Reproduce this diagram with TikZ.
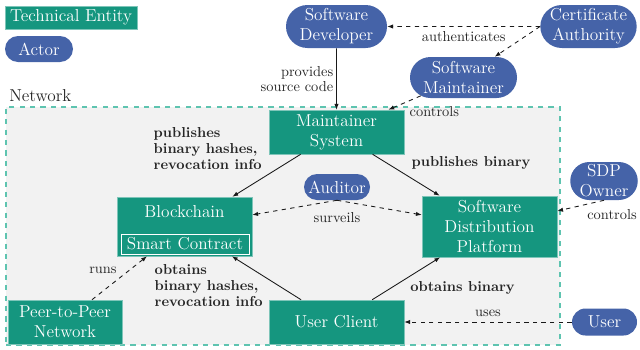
\documentclass[tikz,border=0pt]{standalone}
\usetikzlibrary{shapes.misc,arrows.meta,calc}
\definecolor{entityfill}{HTML}{15967F}
\definecolor{actorfill}{HTML}{4563A8}
\definecolor{netborder}{HTML}{5EC4B0}
\definecolor{netfill}{HTML}{F2F2F2}
\newcommand\pxlen{0.6944pt}
\tikzset{
  sz/.style 2 args={minimum width={#1*\pxlen}, minimum height={#2*\pxlen}},
  entity/.style={rectangle, fill=entityfill, draw=entityfill!55!white, line width=0.4pt,
    text=white, font=\large, align=center, inner sep=0pt},
  actor/.style={rounded rectangle, fill=actorfill, draw=none,
    text=white, font=\large, align=center, inner sep=0pt},
  lbl/.style={font=\fontsize{10}{11}\selectfont, text=black!85, inner sep=1pt},
  blbl/.style={lbl, font=\fontsize{10}{11}\selectfont\bfseries},
  arr/.style={semithick, black!90, -{Latex[length=4pt,width=3pt]}},
  darr/.style={arr, dashed},
}
\begin{document}
\begin{tikzpicture}[x=0.6944pt, y=-0.6944pt]
\useasboundingbox (0,0) rectangle (640,349);

% network area
\node[fill=netfill, draw=netborder, line width=0.75pt, dash pattern=on 3.6pt off 3.6pt,
      sz={554}{238}, inner sep=0pt] (net) at (283,226) {};
\node[anchor=base west, font=\large, text=black!85, inner sep=0pt] (netlabel) at (9,101) {Network};

% legend
\node[entity, sz={132}{23}] (legent) at (71,17.5) {Technical Entity};
\node[actor, sz={68}{26}] (legact) at (39,49) {Actor};

% actors
\node[actor, sz={101}{43}] (dev) at (336.5,26.5) {Software\\Developer};
\node[actor, sz={95}{43}] (ca) at (588.5,26.5) {Certificate\\Authority};
\node[actor, sz={107}{41}] (smaint) at (463.5,77.5) {Software\\Maintainer};
\node[actor, sz={66}{26}] (aud) at (337,187) {Auditor};
\node[actor, sz={64}{38}] (sdpo) at (604,181) {SDP\\Owner};
\node[actor, sz={65}{27}] (user) at (604.5,322) {User};

% technical entities
\node[entity, sz={135}{44}] (ms) at (336.5,132) {Maintainer\\System};
\node[entity, sz={135}{59}] (bc) at (184.5,226.5) {};
\node[text=white, font=\large, inner sep=0pt] (bctitle) at (184.5,212) {Blockchain};
\node[draw=white, semithick, text=white, font=\large, sz={128}{20}, inner sep=0pt] (sc) at (185,244) {Smart Contract};
\node[entity, sz={135}{61}] (sdp) at (489.5,226.5) {Software\\Distribution\\Platform};
\node[entity, sz={114}{44}] (p2p) at (65,322) {Peer-to-Peer\\Network};
\node[entity, sz={135}{44}] (uc) at (336.5,322) {User Client};

% connectors
\draw[arr] (dev) -- node[lbl, left=1pt, align=right] (lprov) {provides\\source code} (ms);
\draw[darr] (ca) -- node[lbl, below=2pt] (lauth) {authenticates} (dev);
\draw[darr] (ca.west) -- (smaint);
\draw[darr] (smaint) -- (ms);
\node[lbl, anchor=west] (lctl1) at (408,112) {controls};

\draw[arr] (ms) -- (bc);
\draw[arr] (ms) -- (sdp);
\draw[arr] (uc) -- (bc);
\draw[arr] (uc) -- (sdp);
\node[blbl, align=left, anchor=north west] (lpubh) at (152,126) {publishes\\binary hashes,\\revocation info};
\node[blbl] (lpubb) at (471,163) {publishes binary};
\node[blbl, align=left, anchor=north west] (lobth) at (153,263) {obtains\\binary hashes,\\revocation info};
\node[blbl] (lobtb) at (462.5,288) {obtains binary};

\draw[darr] (aud.south) -- (bc);
\draw[darr] (aud.south) -- (sdp);
\node[lbl] (lsurv) at (337,218) {surveils};

\draw[darr] (sdpo.south) -- (sdp);
\node[lbl] (lctl2) at (612,215) {controls};

\draw[darr] ($(p2p.north)+(27,0)$) -- ($(bc.south)+(-37.5,0)$);
\node[lbl] (lruns) at (103,270) {runs};

\draw[darr] (user) -- (uc);
\node[lbl] (luses) at (488,313) {uses};
\end{tikzpicture}
\end{document}
